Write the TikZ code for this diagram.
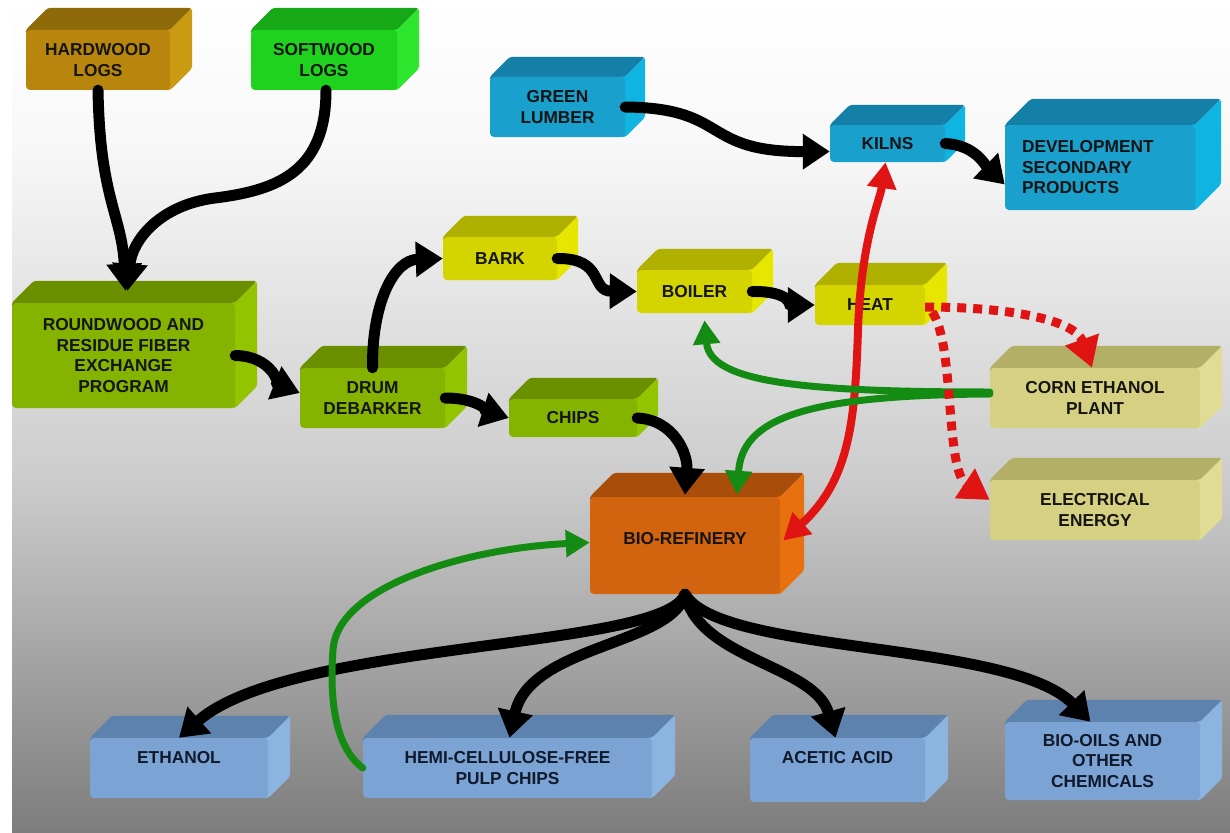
\documentclass[tikz,border=0pt]{standalone}
\usepackage{fontspec}
\setmainfont{Liberation Sans}
\usetikzlibrary{arrows.meta,calc}
\pgfdeclarelayer{bg}
\pgfdeclarelayer{faces}
\pgfsetlayers{bg,faces,main}
% palettes: F front, T top, R right
\definecolor{hwF}{HTML}{B8860C}\definecolor{hwT}{HTML}{8E6A08}\definecolor{hwR}{HTML}{C99A12}
\definecolor{swF}{HTML}{1ED21E}\definecolor{swT}{HTML}{17A817}\definecolor{swR}{HTML}{2DE62D}
\definecolor{olF}{HTML}{84B400}\definecolor{olT}{HTML}{6A9000}\definecolor{olR}{HTML}{92C400}
\definecolor{ylF}{HTML}{D4D400}\definecolor{ylT}{HTML}{B0B000}\definecolor{ylR}{HTML}{E6E600}
\definecolor{cyF}{HTML}{1AA0CC}\definecolor{cyT}{HTML}{1480A8}\definecolor{cyR}{HTML}{10B4E0}
\definecolor{khF}{HTML}{D6D182}\definecolor{khT}{HTML}{B4AF66}\definecolor{khR}{HTML}{E0DC96}
\definecolor{orF}{HTML}{D2640F}\definecolor{orT}{HTML}{A84E0A}\definecolor{orR}{HTML}{E8700F}
\definecolor{lbF}{HTML}{7BA3D3}\definecolor{lbT}{HTML}{5E82AE}\definecolor{lbR}{HTML}{8CB4E0}
\definecolor{txtdark}{HTML}{151515}
\definecolor{txtnavy}{HTML}{101A2C}
\definecolor{arrowgreen}{HTML}{148C14}
\definecolor{arrowred}{HTML}{E11414}
\definecolor{bgA}{gray}{0.97}
\definecolor{bgB}{gray}{0.80}
\definecolor{bgC}{gray}{0.49}
\newcommand{\cubox}[9]{%
  \node[front, fill=#2F, minimum width={#5-#3}, minimum height={#6-#4}, #8] (#1) at ({(#3+#5)/2},{(#4+#6)/2}) {#9};
  \begin{pgfonlayer}{faces}
    \fill[#2T, rounded corners=3pt] ([yshift=-4pt]#1.north west) -- (#1.north west) -- ++(#7,-#7) -- ([shift={(#7,-#7)}]#1.north east) -- (#1.north east) -- ([yshift=-4pt]#1.north east) -- cycle;
    \fill[#2R, rounded corners=3pt] ([xshift=-5pt]#1.north east) -- (#1.north east) -- ++(#7,-#7) -- ([shift={(#7,-#7)}]#1.south east) -- (#1.south east) -- ([xshift=-5pt]#1.south east) -- cycle;
  \end{pgfonlayer}
}
\newcommand{\upby}[2]{\raisebox{#1}[\height][\depth]{#2}}
\begin{document}
\begin{tikzpicture}[x=1pt,y=-1pt,
  front/.style={rounded corners=4pt, inner sep=0pt, align=center, text=txtdark,
    font=\fontsize{17.3}{20.5}\selectfont\bfseries},
  navy/.style={text=txtnavy},
  blk/.style={line width=11pt, draw=black, line cap=round, -{Triangle[length=27pt,width=34pt]}},
  grn/.style={line width=7pt, draw=arrowgreen, line cap=round, -{Triangle[length=24pt,width=26pt]}},
  redl/.style={line width=8pt, draw=arrowred, {Triangle[length=26pt,width=28pt]}-{Triangle[length=26pt,width=28pt]}},
  redd/.style={line width=9pt, draw=arrowred, dash pattern=on 9pt off 7pt, -{Triangle[length=30pt,width=34pt]}}]
\useasboundingbox (0,0) rectangle (1230,832);
\begin{pgfonlayer}{bg}
  \fill[white] (0,0) rectangle (1230,832);
  \shade[top color=white, bottom color=bgA] (12,0) rectangle (1230,150);
  \shade[top color=bgA, bottom color=bgB] (12,150) rectangle (1230,480);
  \shade[top color=bgB, bottom color=bgC] (12,480) rectangle (1230,832);
\end{pgfonlayer}

% boxes
\cubox{hard}{hw}{26}{30}{170}{90}{22}{}{HARDWOOD\\LOGS}
\cubox{soft}{sw}{251}{30}{397}{90}{22}{}{SOFTWOOD\\LOGS}
\cubox{glum}{cy}{490}{77}{625}{137}{20}{}{GREEN\\LUMBER}
\cubox{kiln}{cy}{830}{125}{945}{162}{20}{}{KILNS}
\cubox{dev}{cy}{1005}{125}{1195}{210}{26}{align=left,text width=156pt}{DEVELOPMENT\\SECONDARY\\PRODUCTS}
\cubox{bark}{yl}{443}{237}{557}{280}{21}{}{BARK}
\cubox{boil}{yl}{637}{270}{752}{313}{21}{}{BOILER}
\cubox{heat}{yl}{815}{285}{925}{325}{22}{}{HEAT}
\cubox{round}{ol}{12}{303}{235}{408}{22}{}{ROUNDWOOD AND\\RESIDUE FIBER\\EXCHANGE\\PROGRAM}
\cubox{drum}{ol}{300}{368}{445}{428}{22}{}{DRUM\\DEBARKER}
\cubox{chips}{ol}{509}{399}{637}{437}{21}{}{CHIPS}
\cubox{corn}{kh}{990}{368}{1200}{428}{22}{}{CORN ETHANOL\\PLANT}
\cubox{elec}{kh}{990}{480}{1200}{540}{22}{}{ELECTRICAL\\ENERGY}
\cubox{bio}{or}{590}{497}{780}{594}{24}{}{\upby{7pt}{BIO-REFINERY}}
\cubox{eth}{lb}{90}{738}{268}{798}{22}{navy}{\upby{10pt}{ETHANOL}}
\cubox{hemi}{lb}{363}{738}{652}{798}{23}{navy}{HEMI-CELLULOSE-FREE\\PULP CHIPS}
\cubox{acet}{lb}{750}{738}{925}{802}{23}{navy}{\upby{12pt}{ACETIC ACID}}
\cubox{oils}{lb}{1005}{722}{1200}{800}{22}{navy}{BIO-OILS AND\\OTHER\\CHEMICALS}

% black flow arrows
\draw[blk] (hard.south) .. controls (100,200) and (122,215) .. ([shift={(2,-12)}]round.north);
\draw[blk] ([xshift=2pt]soft.south) .. controls (326,170) and (280,190) .. (215,198) .. controls (160,205) and (132,240) .. ([shift={(4,-12)}]round.north);
\draw[blk] (round.east) .. controls (272,356) and (280,385) .. ([yshift=5pt]drum.west);
\draw[blk] (drum.north) .. controls (372,300) and (395,260) .. (bark.west);
\draw[blk] (drum.east) .. controls (478,398) and (490,412) .. (chips.west);
\draw[blk] (bark.east) .. controls (605,258) and (590,291) .. (boil.west);
\draw[blk] (boil.east) .. controls (790,291) and (790,305) .. (heat.west);
\draw[blk] (glum.east) .. controls (730,108) and (700,152) .. ([yshift=-8pt]kiln.west);
\draw[blk] (kiln.east) .. controls (975,145) and (985,165) .. ([yshift=-17pt]dev.west);
\draw[blk] (chips.east) .. controls (675,420) and (688,455) .. ([yshift=2pt]bio.north);
\draw[blk] (bio.south) .. controls (665,650) and (290,640) .. (eth.north);
\draw[blk] (bio.south) .. controls (672,645) and (530,645) .. ([xshift=2pt]hemi.north);
\draw[blk] (bio.south) .. controls (700,660) and (815,665) .. ([xshift=-2pt]acet.north);
\draw[blk] (bio.south) .. controls (720,655) and (1010,640) .. ([xshift=-12pt]oils.north);

% red heat line
\draw[redl] ([shift={(3,-5)}]bio.east) .. controls (850,480) and (855,420) .. (858,330) .. controls (861,240) and (880,200) .. ([xshift=-2pt]kiln.south);

% green returns
\draw[grn] ([yshift=6pt]corn.west) .. controls (800,392) and (710,382) .. ([shift={(10,7)}]boil.south);
\draw[grn] ([yshift=4pt]corn.west) .. controls (800,395) and (742,420) .. ([shift={(52,-2)}]bio.north);
\draw[grn] (hemi.west) .. controls (332,745) and (330,690) .. (333,650) .. controls (337,585) and (470,548) .. ([yshift=3pt]bio.west);

% red dashed heat distribution
\draw[redd] ([yshift=-2pt]heat.east) .. controls (1010,307) and (1075,320) .. ([xshift=-3pt]corn.north);
\draw[redd] ([shift={(7,7)}]heat.east) .. controls (955,345) and (945,470) .. ([yshift=10pt]elec.west);
\end{tikzpicture}
\end{document}
